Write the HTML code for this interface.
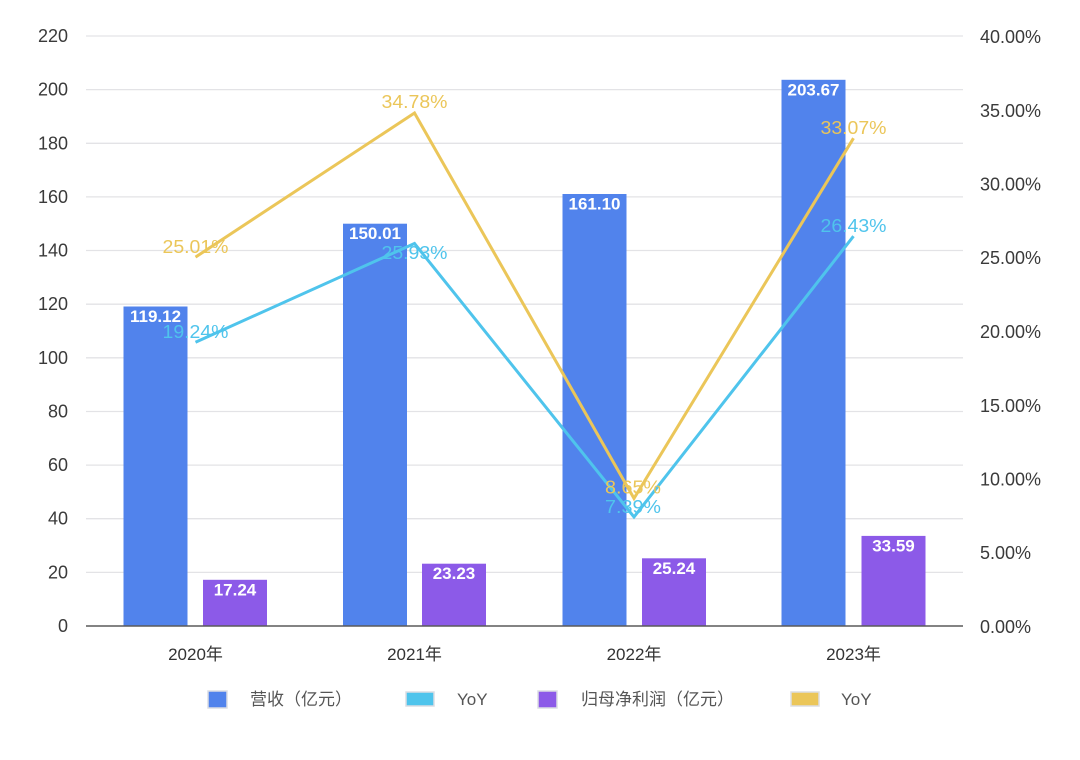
<!DOCTYPE html>
<html><head><meta charset="utf-8"><style>
html,body{margin:0;padding:0;background:#fff;}
svg{display:block;}
text{font-family:"Liberation Sans","Noto Sans CJK SC",sans-serif;}
</style></head><body>
<svg width="1080" height="760" viewBox="0 0 1080 760" xmlns="http://www.w3.org/2000/svg">
<rect width="1080" height="760" fill="#fff"/>
<g stroke="#e3e3e6" stroke-width="1.3">
<line x1="86" x2="963" y1="572.4" y2="572.4"/>
<line x1="86" x2="963" y1="518.7" y2="518.7"/>
<line x1="86" x2="963" y1="465.1" y2="465.1"/>
<line x1="86" x2="963" y1="411.5" y2="411.5"/>
<line x1="86" x2="963" y1="357.8" y2="357.8"/>
<line x1="86" x2="963" y1="304.2" y2="304.2"/>
<line x1="86" x2="963" y1="250.5" y2="250.5"/>
<line x1="86" x2="963" y1="196.9" y2="196.9"/>
<line x1="86" x2="963" y1="143.3" y2="143.3"/>
<line x1="86" x2="963" y1="89.6" y2="89.6"/>
<line x1="86" x2="963" y1="36" y2="36"/>
</g>
<g font-size="18" fill="#3a3a3a" text-anchor="end">
<text x="68" y="632">0</text>
<text x="68" y="578.4">20</text>
<text x="68" y="524.7">40</text>
<text x="68" y="471.1">60</text>
<text x="68" y="417.5">80</text>
<text x="68" y="363.8">100</text>
<text x="68" y="310.2">120</text>
<text x="68" y="256.5">140</text>
<text x="68" y="202.9">160</text>
<text x="68" y="149.3">180</text>
<text x="68" y="95.6">200</text>
<text x="68" y="42">220</text>
</g>
<g font-size="18" fill="#3a3a3a">
<text x="980" y="633">0.00%</text>
<text x="980" y="559.2">5.00%</text>
<text x="980" y="485.5">10.00%</text>
<text x="980" y="411.8">15.00%</text>
<text x="980" y="338">20.00%</text>
<text x="980" y="264.2">25.00%</text>
<text x="980" y="190.5">30.00%</text>
<text x="980" y="116.8">35.00%</text>
<text x="980" y="43">40.00%</text>
</g>
<g fill="#5183ec">
<rect x="123.5" y="306.5" width="64" height="319.5"/>
<rect x="343" y="223.7" width="64" height="402.3"/>
<rect x="562.5" y="194" width="64" height="432"/>
<rect x="781.5" y="79.8" width="64" height="546.2"/>
</g>
<g fill="#8c5ae8">
<rect x="203" y="579.8" width="64" height="46.2"/>
<rect x="422" y="563.7" width="64" height="62.3"/>
<rect x="642" y="558.3" width="64" height="67.7"/>
<rect x="861.5" y="535.9" width="64" height="90.1"/>
</g>
<line x1="86" x2="963" y1="626" y2="626" stroke="#5a5a5a" stroke-width="1.5"/>
<g font-size="17" font-weight="bold" fill="#fff" text-anchor="middle">
<text x="155.5" y="322">119.12</text>
<text x="375" y="239.2">150.01</text>
<text x="594.5" y="209.5">161.10</text>
<text x="813.5" y="95.3">203.67</text>
<text x="235" y="595.3">17.24</text>
<text x="454" y="579.2">23.23</text>
<text x="674" y="573.8">25.24</text>
<text x="893.5" y="551.4">33.59</text>
</g>
<polyline points="195.5,257.1 414.5,113 634,498.4 853.5,138.2" fill="none" stroke="#ebc659" stroke-width="3" stroke-linejoin="miter"/>
<polyline points="195.5,342.2 414.5,243.5 634,517 853.5,236.2" fill="none" stroke="#4fc4ec" stroke-width="3" stroke-linejoin="miter"/>
<g font-size="18" text-anchor="middle">
<text x="195.5" y="253" fill="#ebc659" textLength="66" lengthAdjust="spacingAndGlyphs">25.01%</text>
<text x="414.5" y="108" fill="#ebc659" textLength="66" lengthAdjust="spacingAndGlyphs">34.78%</text>
<text x="633" y="493.4" fill="#ebc659" textLength="56" lengthAdjust="spacingAndGlyphs">8.65%</text>
<text x="853.5" y="134" fill="#ebc659" textLength="66" lengthAdjust="spacingAndGlyphs">33.07%</text>
<text x="195.5" y="338" fill="#4fc4ec" textLength="66" lengthAdjust="spacingAndGlyphs">19.24%</text>
<text x="414.5" y="259" fill="#4fc4ec" textLength="66" lengthAdjust="spacingAndGlyphs">25.93%</text>
<text x="633" y="513" fill="#4fc4ec" textLength="56" lengthAdjust="spacingAndGlyphs">7.39%</text>
<text x="853.5" y="232" fill="#4fc4ec" textLength="66" lengthAdjust="spacingAndGlyphs">26.43%</text>
</g>
<g font-size="17" fill="#333" text-anchor="middle">
<text x="195.5" y="660">2020年</text>
<text x="414.5" y="660">2021年</text>
<text x="634" y="660">2022年</text>
<text x="853.5" y="660">2023年</text>
</g>
<g stroke="#dcdde3" stroke-width="1.5">
<rect x="208" y="691" width="19" height="17" fill="#5183ec"/>
<rect x="406" y="692" width="28" height="14" fill="#4fc4ec"/>
<rect x="538" y="691" width="19" height="17" fill="#8c5ae8"/>
<rect x="791" y="692" width="28" height="14" fill="#ebc659"/>
</g>
<g font-size="17" fill="#555">
<text x="250" y="705">营收（亿元）</text>
<text x="457" y="705">YoY</text>
<text x="581" y="705">归母净利润（亿元）</text>
<text x="841" y="705">YoY</text>
</g>
</svg>
</body></html>
